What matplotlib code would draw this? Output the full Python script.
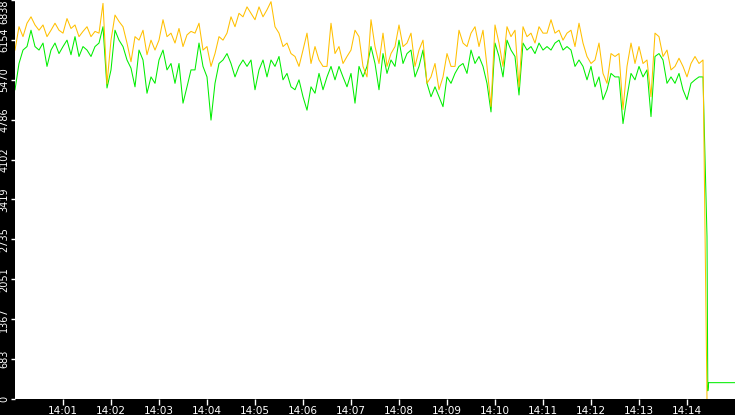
import numpy as np
import matplotlib
matplotlib.use("Agg")
import matplotlib.pyplot as plt

# samples every 5 s starting 14:00:00 (seconds from 14:00)
orange = [5980, 6380, 6210, 6440, 6550, 6410, 6320, 6410, 6210, 6320,
          6440, 6320, 6270, 6520, 6350, 6410, 6210, 6300, 6380, 6210,
          6300, 6270, 6780, 5400, 6150, 6580, 6470, 6380, 6100, 5780,
          6210, 6150, 6320, 5900, 6150, 5980, 6150, 6500, 6210, 6270,
          6100, 6350, 6040, 6240, 6300,
          6270, 6440, 5980, 6040, 5700,
          5920, 6210, 6150, 6270, 6550, 6380, 6610, 6550, 6720, 6610,
          6500, 6720, 6550, 6670, 6810, 6380, 6270, 6040, 6100, 5920,
          5870, 5700, 5980, 6270, 5750, 6040, 5810, 5700, 5700, 6440,
          5920, 6040, 5750, 5870, 5980, 6320, 6210, 5700, 5520, 6500,
          6040, 5750, 6270, 5700, 5920, 6040, 6410, 6040, 6100, 6270,
          5700, 5980, 6150, 5410, 5520, 5750, 5300, 5520, 5920, 5700,
          5700, 6320, 6100, 6040, 6270, 6380, 6040, 6320, 5700, 5010,
          6410, 6100, 5700, 6380, 6210, 6320, 5350, 6380, 6210, 6270,
          6100, 6380, 6270, 6270, 6500,
          6270, 6320, 6150, 6270, 6320,
          6040, 6440, 6100, 5870, 5750, 5810, 6100, 5580, 5410, 5920,
          5870, 5920, 4960, 5700, 6100, 5750, 6040, 5750, 5810, 5180,
          6270, 6210, 5870, 5980, 5640, 5700, 5840, 5700, 5520, 5750,
          5870, 5750, 5810]

green = [5300, 5750, 5980, 6040, 6320, 6040, 5980, 6100, 5700, 5980,
         6100, 5920, 6040, 6150, 5900, 6210, 5870, 6040, 5980, 5870,
         6040, 6100, 6380, 5330, 5640, 6320, 6150, 6040, 5810, 5670,
         5350, 5980, 5810, 5240, 5520, 5410, 5810, 5980, 5640, 5750,
         5410, 5750, 5070, 5350, 5640,
         5640, 6100, 5700, 5520, 4780,
         5410, 5750, 5810, 5920, 5750, 5520, 5700, 5810, 5700, 5810,
         5300, 5640, 5810, 5520, 5810, 5700, 5870, 5470, 5580, 5350,
         5300, 5470, 5180, 4950, 5350, 5240, 5580, 5300, 5520, 5700,
         5470, 5700, 5520, 5350, 5580, 5070, 5700, 5520, 5700, 6040,
         5750, 5300, 5920, 5580, 5810, 5700, 6150, 5750, 5920, 5980,
         5520, 5700, 5980, 5410, 5180, 5350, 5180, 5010, 5520, 5410,
         5580, 5700, 5750, 5580, 5980, 5750, 5870, 5700, 5410, 4920,
         6100, 5870, 5520, 6150, 5980, 5870, 5210, 6100, 5980, 6040,
         5920, 6100, 5980, 6040, 5980,
         6100, 6150, 5980, 6040, 5980,
         5700, 5810, 5700, 5470, 5700, 5350, 5520, 5130, 5300, 5580,
         5520, 5520, 4720, 5180, 5580, 5470, 5700, 5520, 5640, 4840,
         5870, 5920, 5810, 5410, 5520, 5410, 5580, 5300, 5130, 5410,
         5470, 5520, 5520]

# the drop at 14:14:25
orange_tail_t = [865]
orange_tail = [0]
green_tail_t = [865, 866, 867, 900]
green_tail = [2780, 140, 280, 280]

y_ticks = [0, 683, 1367, 2051, 2735, 3419, 4102, 4786, 5470, 6154, 6838]
x_ticks = [60 * m for m in range(1, 15)]
x_labels = ["14:%02d" % m for m in range(1, 15)]

t = list(np.arange(len(orange)) * 5)
t_orange = t + orange_tail_t
t_green = t + green_tail_t

fig = plt.figure(figsize=(7.35, 4.15), dpi=100, facecolor="black")
ax = fig.add_axes([15 / 735, 16 / 415, 720 / 735, 399 / 415])
ax.set_facecolor("white")
for s in ax.spines.values():
    s.set_visible(False)

ax.plot(t_green, green + green_tail, color="#00ee00", lw=0.75)
ax.plot(t_orange, orange + orange_tail, color="#ffc000", lw=0.75)

ax.set_xlim(0, 900)
ax.set_ylim(0, 6838)

ax.set_yticks(y_ticks)
ax.set_yticklabels([str(v) for v in y_ticks], rotation=90, va="center")
ax.set_xticks(x_ticks)
ax.set_xticklabels(x_labels)
ax.tick_params(axis="y", colors="white", length=3, width=1, labelsize=7, pad=1)
ax.tick_params(axis="x", colors="white", length=4, width=1, labelsize=7.5, pad=1)
ax.get_yticklabels()[-1].set_va("top")

fig.savefig("out.png", dpi=100, facecolor="black")
